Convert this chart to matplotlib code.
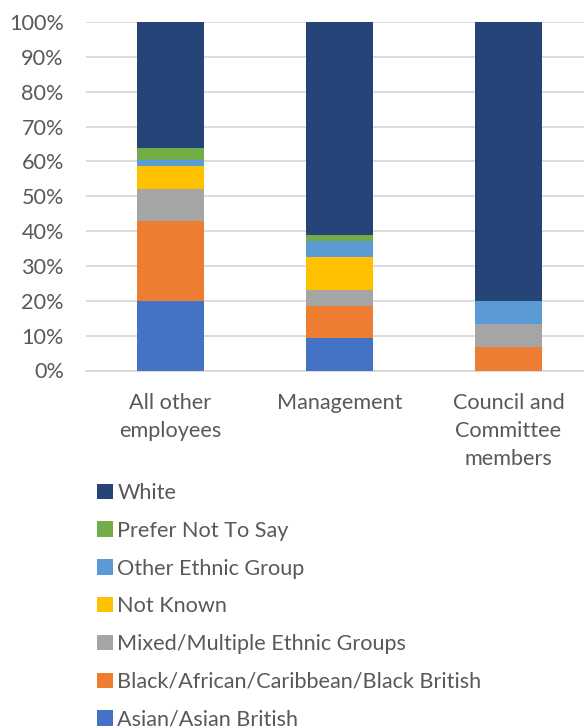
import matplotlib
matplotlib.use("Agg")
import matplotlib.pyplot as plt
import numpy as np

plt.rcParams['font.family'] = ['Lato', 'DejaVu Sans']

categories = ["All other\nemployees", "Management", "Council and\nCommittee\nmembers"]
series_names = ["Asian/Asian British", "Black/African/Caribbean/Black British",
                "Mixed/Multiple Ethnic Groups", "Not Known", "Other Ethnic Group",
                "Prefer Not To Say", "White"]
asian = [20.0, 9.2, 0.0]
black = [23.0, 9.4, 6.67]
mixed = [9.1, 4.6, 6.67]
not_known = [6.5, 9.4, 0.0]
other = [1.9, 4.6, 6.66]
prefer_not = [3.3, 1.6, 0.0]
white = [36.2, 61.2, 80.0]
colors = ["#4472C4", "#ED7D31", "#A5A5A5", "#FFC000", "#5B9BD5", "#70AD47", "#264478"]

series = [asian, black, mixed, not_known, other, prefer_not, white]

W, H = 584, 728
fig = plt.figure(figsize=(W / 100, H / 100), dpi=100)
ax = fig.add_axes([86 / W, (H - 370.5) / H, (592.5 - 85.5) / W, 348.5 / H])

x = np.arange(len(categories))
bottom = np.zeros(len(categories))
handles = []
for name, vals, c in zip(series_names, series, colors):
    v = np.array(vals) / 100.0
    b = ax.bar(x, v, 0.40, bottom=bottom, color=c, label=name, zorder=3)
    handles.append(b)
    bottom += v

ax.set_xlim(-0.5, 2.5)
ax.set_ylim(0, 1)
ax.set_yticks(np.arange(0, 1.01, 0.1))
ax.set_yticklabels([f"{int(round(t * 100))}%" for t in np.arange(0, 1.01, 0.1)])
ax.set_xticks(x)
ax.set_xticklabels(categories, linespacing=1.5, va="top")
ax.yaxis.grid(True, color="#D9D9D9", linewidth=1.3, zorder=0)
ax.set_axisbelow(True)
for s in ["top", "right", "left"]:
    ax.spines[s].set_visible(False)
ax.spines["bottom"].set_color("#D9D9D9")
ax.spines["bottom"].set_linewidth(1.3)
ax.tick_params(axis="both", length=0, colors="#595959", labelsize=15.6)
ax.tick_params(axis="y", pad=16)
ax.tick_params(axis="x", pad=16)

leg = fig.legend(handles[::-1], series_names[::-1], loc="upper left",
                 bbox_to_anchor=(97 / W, (H - 483) / H), frameon=False,
                 fontsize=15.6, handlelength=0.72, handleheight=0.72,
                 handletextpad=0.22, labelspacing=0.82, borderaxespad=0,
                 borderpad=0)
for t in leg.get_texts():
    t.set_color("#595959")

fig.savefig("out.png", dpi=100)
